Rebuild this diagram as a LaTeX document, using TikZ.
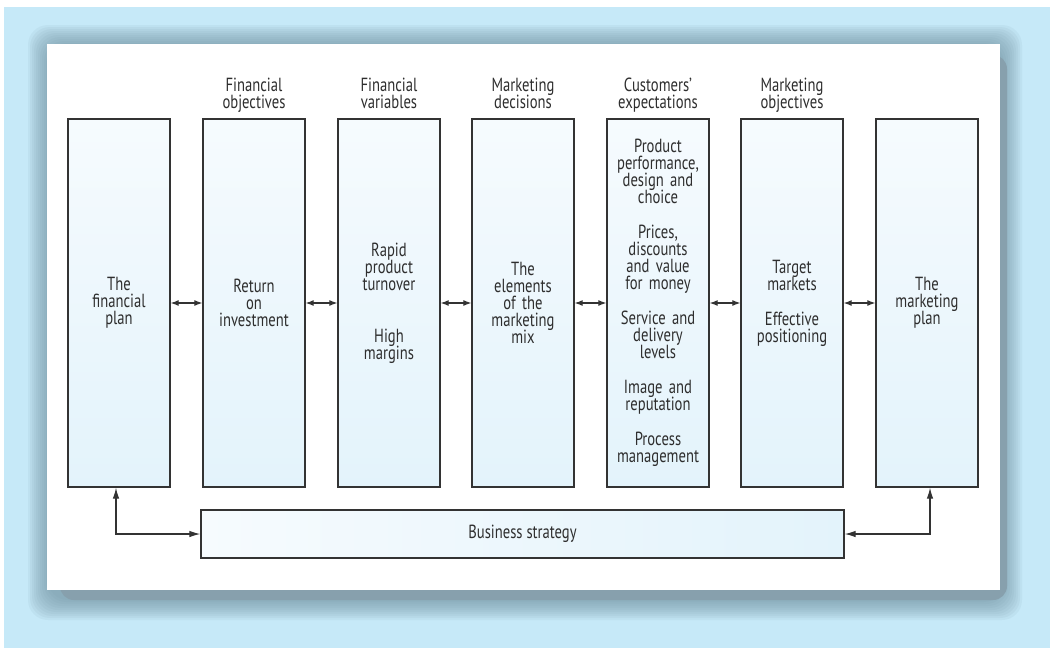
\documentclass[tikz,border=0pt]{standalone}
\usepackage{fontspec}
\setmainfont{PT Sans}[FakeStretch=0.77]
\usetikzlibrary{arrows.meta}
\definecolor{bgblue}{HTML}{C6E9F8}
\definecolor{shadowc}{HTML}{6F8E9E}
\definecolor{darkshadow}{HTML}{87A0AD}
\definecolor{boxtop}{HTML}{F6FBFE}
\definecolor{boxbot}{HTML}{E3F3FB}
\definecolor{linec}{HTML}{333333}
\definecolor{txtc}{HTML}{2E2E2E}
\newcommand{\hs}{\rule[-4pt]{0pt}{17pt}}
\newcommand{\diagfont}{\fontsize{19}{17}\selectfont\setlength{\lineskiplimit}{-30pt}}
\begin{document}
\begin{tikzpicture}[x=1pt,y=-1pt,
  txt/.style={font=\diagfont, text=txtc, align=center},
  col/.style={txt, draw=linec, line width=1.3pt, top color=boxtop, bottom color=boxbot,
    minimum width=102pt, minimum height=368pt, inner sep=0pt, text width=100pt},
  hdr/.style={txt, inner sep=0pt},
  dbl/.style={draw=linec, line width=1.2pt, {Latex[length=8pt,width=6pt]}-{Latex[length=8pt,width=6pt]}},
  arr/.style={draw=linec, line width=1.2pt, {Latex[length=11pt,width=6.5pt]}-{Latex[length=11pt,width=6.5pt]}}
]
\useasboundingbox (0,0) rectangle (1050,648);
% background and panel
\fill[bgblue] (4,7) rectangle (1050,648);
\foreach \d in {22,20,...,2} {
  \fill[shadowc, opacity=0.085, rounded corners=20pt] (50-\d,47-\d) rectangle (1000+\d,598+\d);
}
\fill[darkshadow, rounded corners=14pt] (60,55) rectangle (1007,600);
\fill[white] (47,44) rectangle (1000,590);

% columns
\node[col] (b1) at (119,303) {The\\financial\\plan};
\node[col] (b2) at (254,303) {Return\\on\\investment};
\node[col] (b3) at (389,303) {Rapid\\product\\turnover\\[35pt]High\\margins};
\node[col] (b4) at (523,303) {The\\elements\\of the\\marketing\\mix};
\node[col] (b5) at (658,303) {Product\\performance,\\design and\\choice\\[18pt]Prices,\\discounts\\and value\\for money\\[18pt]Service and\\delivery\\levels\\[18pt]Image and\\reputation\\[18pt]Process\\management};
\node[col] (b6) at (792,303) {Target\\markets\\[18pt]Effective\\positioning};
\node[col] (b7) at (927,303) {The\\marketing\\plan};

% headers
\node[hdr] (h2) at (254,95) {\hs Financial\\\hs objectives};
\node[hdr] (h3) at (389,95) {\hs Financial\\\hs variables};
\node[hdr] (h4) at (523,95) {\hs Marketing\\\hs decisions};
\node[hdr] (h5) at (658,95) {\hs Customers'\\\hs expectations};
\node[hdr] (h6) at (792,95) {\hs Marketing\\\hs objectives};

% strategy
\node[txt, draw=linec, line width=1.3pt, left color=boxtop, right color=boxbot,
  minimum width=643pt, minimum height=48pt, inner sep=0pt] (bs) at (522.5,534) {Business strategy};

% connectors
\draw[dbl] (b1.east) -- (b2.west);
\draw[dbl] (b2.east) -- (b3.west);
\draw[dbl] (b3.east) -- (b4.west);
\draw[dbl] (b4.east) -- (b5.west);
\draw[dbl] (b5.east) -- (b6.west);
\draw[dbl] (b6.east) -- (b7.west);
\coordinate (a1) at ([xshift=-3pt]b1.south);
\coordinate (a7) at ([xshift=3pt]b7.south);
\draw[arr] (a1) |- (bs.west);
\draw[arr] (a7) |- (bs.east);
\end{tikzpicture}
\end{document}
